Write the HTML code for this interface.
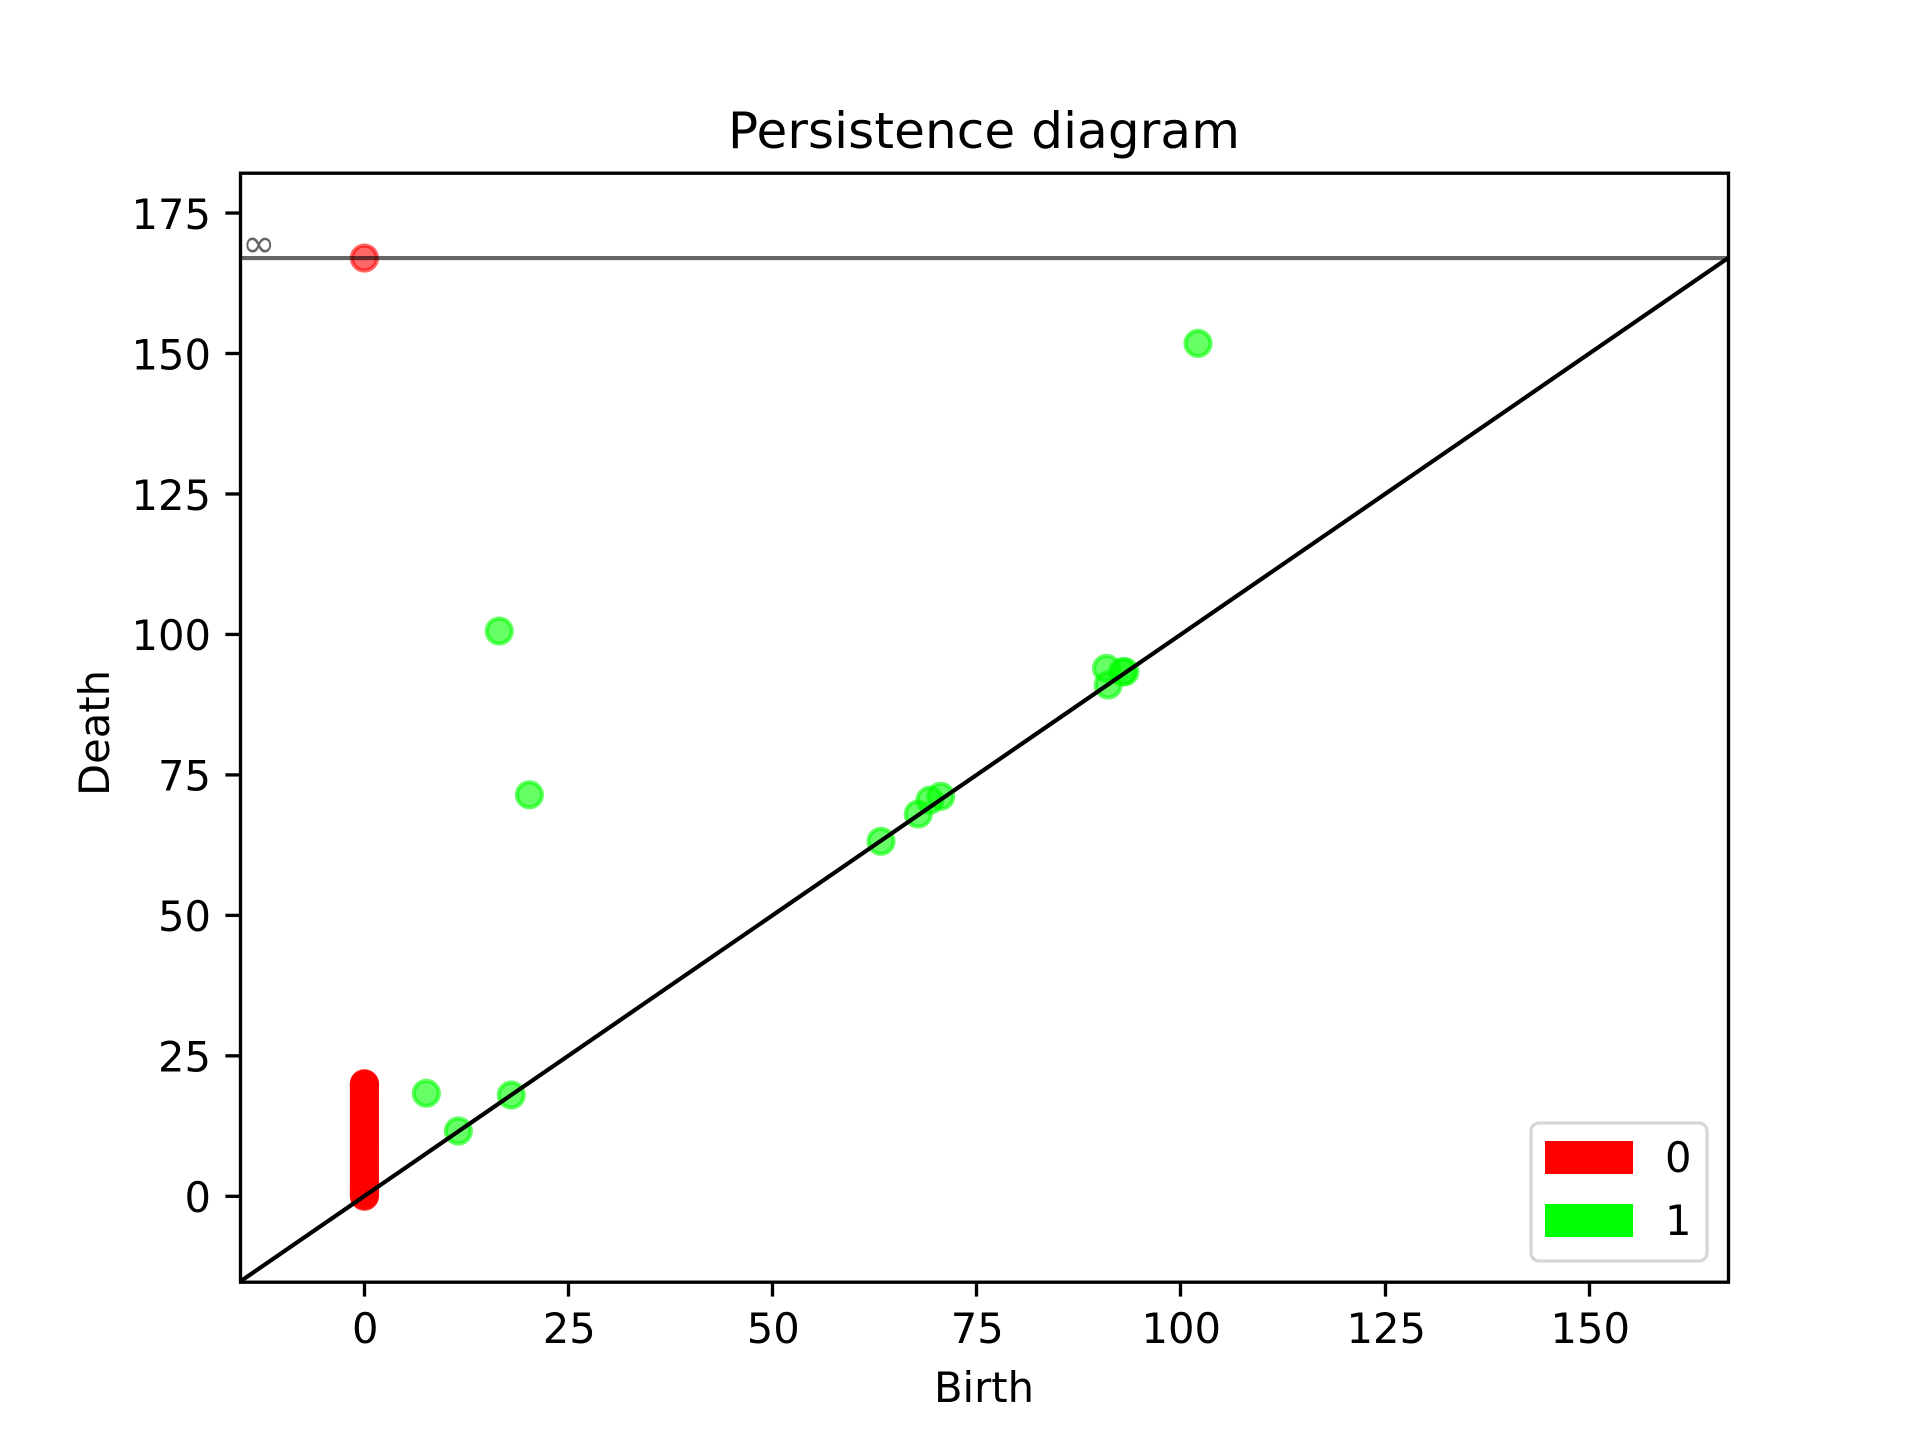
<!DOCTYPE html>
<html lang="en">
<head>
<meta charset="utf-8">
<title>Persistence diagram</title>
<style>
html,body{margin:0;padding:0;background:#fff;width:1920px;height:1440px;overflow:hidden}
svg{display:block}
text{font-family:"DejaVu Sans","Liberation Sans",sans-serif;font-size:41.67px;fill:#000}
</style>
</head>
<body>
<svg id="chart" xmlns="http://www.w3.org/2000/svg" width="1920" height="1440" viewBox="0 0 1920 1440">
  <rect x="0" y="0" width="1920" height="1440" fill="#fff"/>
  <defs><clipPath id="plot-clip"><rect x="240" y="173" width="1488.5" height="1109"/></clipPath></defs>
  <g id="marks" clip-path="url(#plot-clip)"></g>
  <g id="ticks"></g>
  <rect x="240.5" y="173.2" width="1488" height="1109" fill="none" stroke="#000" stroke-width="3.33"/>
  <text x="984" y="148" text-anchor="middle" style="font-size:50px;letter-spacing:0.12px">Persistence diagram</text>
  <text x="984" y="1402" text-anchor="middle">Birth</text>
  <text transform="translate(109,733) rotate(-90)" text-anchor="middle">Death</text>
  <g>
    <rect x="1531" y="1123" width="176" height="138" rx="8" ry="8" fill="#fff" fill-opacity="0.8" stroke="#d6d6d6" stroke-width="3.33"/>
    <rect x="1545" y="1141" width="88" height="33" fill="#ff0000"/>
    <text x="1665" y="1172">0</text>
    <rect x="1545" y="1204" width="88" height="33" fill="#00ff00"/>
    <text x="1665" y="1235">1</text>
  </g>
</svg>
<script>
const xTicks = [0, 25, 50, 75, 100, 125, 150];
const yTicks = [0, 25, 50, 75, 100, 125, 150, 175];
const infinityValue = 166.98;
const domainMin = -15.18;
const yDomainMax = 182.16;
const redBirths = [0.05];
const redDeaths = [0, 0.1, 0.2, 0.3, 0.5, 0.6, 0.8, 0.9, 1.1, 1.3, 1.4, 1.6, 1.8, 2.0, 2.1, 2.3, 2.6, 2.8, 3.0, 3.1, 3.4, 3.6, 3.9, 4.1, 4.2, 4.5, 4.8, 5.0, 5.3, 5.5, 5.7, 6.0, 6.2, 6.5, 6.8, 7.0, 7.2, 7.5, 7.7, 8.0, 8.2, 8.4, 8.7, 9.0, 9.3, 9.5, 9.8, 10.1, 10.4, 10.6, 10.9, 11.2, 11.5, 11.7, 12.0, 12.3, 12.6, 12.9, 13.1, 13.4, 13.7, 14.0, 14.2, 14.5, 14.8, 15.1, 15.3, 15.6, 15.9, 16.2, 16.4, 16.7, 17.0, 17.3, 17.5, 17.8, 18.1, 18.3, 18.6, 18.8, 19.0, 19.2, 19.4, 19.6, 19.7, 19.8, 19.9, 20.0, 20.05];
const greenBirths = [102.1, 16.55, 20.25, 7.63, 11.55, 18.03, 63.29, 67.85, 69.29, 70.6, 90.9, 91.1, 92.87, 93.15];
const greenDeaths = [151.8, 100.6, 71.45, 18.33, 11.62, 18.03, 63.18, 68.03, 70.5, 71.2, 93.96, 91.0, 93.36, 93.36];

const SVGNS = 'http://www.w3.org/2000/svg';
const plotLeft = 240, plotRight = 1728, plotTop = 172.8, plotBottom = 1281.6;
function xScale(v) { return plotLeft + (v - domainMin) / (infinityValue - domainMin) * (plotRight - plotLeft); }
function yScale(v) { return plotBottom - (v - domainMin) / (yDomainMax - domainMin) * (plotBottom - plotTop); }

const marks = document.getElementById('marks');
const ticks = document.getElementById('ticks');

function addPoint(px, py, color) {
  const c = document.createElementNS(SVGNS, 'circle');
  
  
  c.setAttribute('cx', px);
  c.setAttribute('cy', py);
  c.setAttribute('r', 12.5);
  c.setAttribute('fill', color);
  c.setAttribute('stroke', color);
  c.setAttribute('fill-opacity', 0.6);
  c.setAttribute('stroke-opacity', 0.6);
  c.setAttribute('stroke-width', 4.17);
  marks.appendChild(c);
}

redDeaths.forEach(function (d) {
  addPoint(xScale(redBirths[0]), yScale(d), '#ff0000');
});
addPoint(xScale(redBirths[0]), yScale(infinityValue), '#ff0000');
greenDeaths.forEach(function (d, i) {
  addPoint(xScale(greenBirths[i]), yScale(d), '#00ff00');
});

const diagonal = document.createElementNS(SVGNS, 'line');


diagonal.setAttribute('x1', xScale(domainMin));
diagonal.setAttribute('y1', yScale(domainMin));
diagonal.setAttribute('x2', xScale(infinityValue));
diagonal.setAttribute('y2', yScale(infinityValue));
diagonal.setAttribute('stroke', '#000');
diagonal.setAttribute('stroke-width', 4.17);
marks.appendChild(diagonal);

const infLine = document.createElementNS(SVGNS, 'line');


infLine.setAttribute('x1', xScale(domainMin));
infLine.setAttribute('y1', yScale(infinityValue));
infLine.setAttribute('x2', xScale(infinityValue));
infLine.setAttribute('y2', yScale(infinityValue));
infLine.setAttribute('stroke', '#000');
infLine.setAttribute('stroke-opacity', 0.6);
infLine.setAttribute('stroke-width', 4.17);
marks.appendChild(infLine);

const infLabel = document.createElementNS(SVGNS, 'text');


infLabel.setAttribute('x', 242);
infLabel.setAttribute('y', yScale(infinityValue) - 1);
infLabel.setAttribute('style', 'font-size:40px;fill-opacity:0.6');
infLabel.textContent = '\u221E';
marks.appendChild(infLabel);

xTicks.forEach(function (t) {
  const px = Math.floor(xScale(t)) + 0.5;
  const m = document.createElementNS(SVGNS, 'line');
  
  
  m.setAttribute('x1', px);
  m.setAttribute('x2', px);
  m.setAttribute('y1', plotBottom);
  m.setAttribute('y2', plotBottom + 15);
  m.setAttribute('stroke', '#000');
  m.setAttribute('stroke-width', 3.33);
  ticks.appendChild(m);
  const l = document.createElementNS(SVGNS, 'text');
  
  
  l.setAttribute('x', px + 0.7);
  l.setAttribute('y', 1343);
  l.setAttribute('text-anchor', 'middle');
  l.textContent = t;
  ticks.appendChild(l);
});

yTicks.forEach(function (t) {
  const py = yScale(t);
  const m = document.createElementNS(SVGNS, 'line');
  
  
  m.setAttribute('x1', plotLeft - 14.6);
  m.setAttribute('x2', plotLeft);
  m.setAttribute('y1', py);
  m.setAttribute('y2', py);
  m.setAttribute('stroke', '#000');
  m.setAttribute('stroke-width', 3.33);
  ticks.appendChild(m);
  const l = document.createElementNS(SVGNS, 'text');
  
  
  l.setAttribute('x', plotLeft - 29);
  l.setAttribute('y', py + 15.8);
  l.setAttribute('text-anchor', 'end');
  l.textContent = t;
  ticks.appendChild(l);
});
</script>
</body>
</html>
